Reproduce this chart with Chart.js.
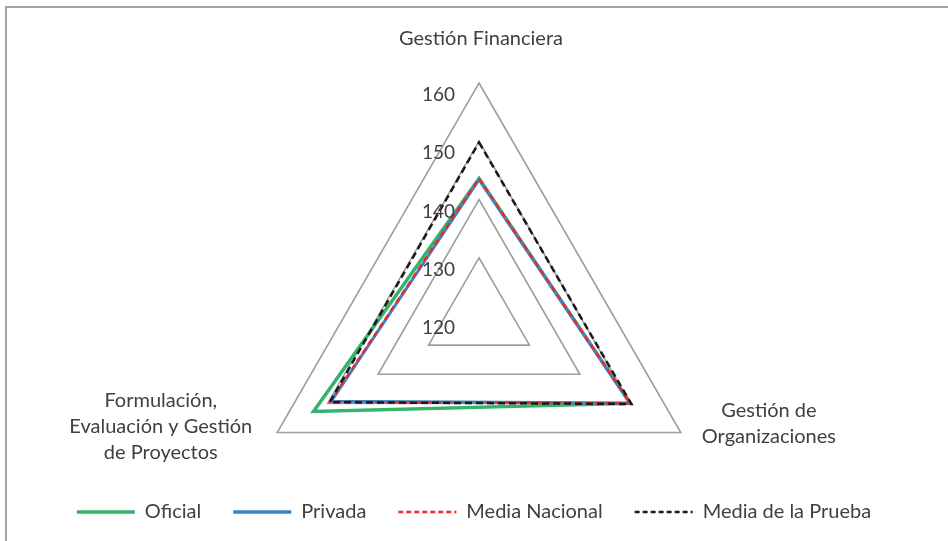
<!DOCTYPE html>
<html>
<head>
<meta charset="utf-8">
<script src="https://cdn.jsdelivr.net/npm/chart.js@4/dist/chart.umd.min.js"></script>
<style>
  html, body { margin: 0; padding: 0; background: #fff; }
  #wrap { position: relative; width: 948px; height: 541px; overflow: hidden; }
  #frame { position: absolute; left: 5px; top: 6px; width: 1000px; height: 600px;
           border-left: 2px solid #a3a3a3; border-top: 2px solid #a3a3a3; pointer-events: none; }
</style>
</head>
<body>
<div id="wrap">
  <canvas id="radar" width="948" height="541"></canvas>
  <div id="frame"></div>
</div>
<script>
// ejes (categorias) del radar
var ejes = ['Gestión Financiera', 'Gestión de Organizaciones', 'Formulación, Evaluación y Gestión de Proyectos'];
var ejesLineas = [
    ['Gestión Financiera'],
    ['Gestión de', 'Organizaciones'],
    ['Formulación,', 'Evaluación y Gestión', 'de Proyectos']
];

// series
var oficial       = [143.6, 150.0, 152.8];
var privada       = [143.4, 149.9, 149.3];
var mediaNacional = [143.6, 150.0, 149.5];
var mediaPrueba   = [149.8, 150.2, 149.6];

// escala
var escalaMin = 120;
var escalaMax = 160;
var escalaPaso = 10;

var fuente = 'Lato, "Liberation Sans", sans-serif';
var colorTexto = '#404040';

// etiquetas de ticks y de ejes dibujadas a mano (posicion tipo Excel)
const textoRadar = {
    id: 'textoRadar',
    afterDraw(chart) {
        const r = chart.scales.r;
        const ctx = chart.ctx;
        ctx.save();
        ctx.fillStyle = colorTexto;

        // ticks
        ctx.font = '19px ' + fuente;
        ctx.textAlign = 'right';
        ctx.textBaseline = 'middle';
        r.ticks.forEach(t => {
            const d = r.getDistanceFromCenterForValue(t.value);
            ctx.fillText(String(t.value), r.xCenter - 24, r.yCenter - d + 12);
        });

        // nombres de los ejes
        ctx.font = '20px ' + fuente;
        ctx.textAlign = 'center';
        const alto = 26;
        ejesLineas.forEach((lineas, i) => {
            const p = r.getPointPosition(i, r.drawingArea);
            let anchoMax = 0;
            lineas.forEach(l => { anchoMax = Math.max(anchoMax, ctx.measureText(l).width); });
            let cx, cy;
            if (i === 0) {
                cx = p.x + 2;
                cy = p.y - 44;
            } else if (p.x > r.xCenter) {
                cx = p.x + 21 + anchoMax / 2;
                cy = p.y - 9;
            } else {
                cx = p.x - 25 - anchoMax / 2;
                cy = p.y - 6;
            }
            const y0 = cy - (lineas.length - 1) * alto / 2;
            lineas.forEach((l, k) => ctx.fillText(l, cx, y0 + k * alto));
        });
        ctx.restore();
    }
};

const config = {
    type: 'radar',
    data: {
        labels: ejes,
        datasets: [
            { label: 'Oficial', data: oficial, borderColor: '#33b36b', backgroundColor: '#33b36b',
              borderWidth: 3.5, fill: false, order: 4 },
            { label: 'Privada', data: privada, borderColor: '#3a86c4', backgroundColor: '#3a86c4',
              borderWidth: 3, fill: false, order: 3 },
            { label: 'Media Nacional', data: mediaNacional, borderColor: '#f0282d', backgroundColor: '#f0282d',
              borderWidth: 2.5, borderDash: [6, 4], fill: false, order: 2 },
            { label: 'Media de la Prueba', data: mediaPrueba, borderColor: '#1a1a1a', backgroundColor: '#1a1a1a',
              borderWidth: 2.5, borderDash: [7, 4], fill: false, order: 1 }
        ]
    },
    options: {
        responsive: false,
        animation: false,
        layout: { padding: { bottom: 9 } },
        elements: {
            point: { radius: 0, hoverRadius: 0 },
            line: { tension: 0 }
        },
        scales: {
            r: {
                min: escalaMin,
                max: escalaMax,
                ticks: { stepSize: escalaPaso, display: false },
                angleLines: { display: false },
                grid: { circular: false, color: '#9e9e9e', lineWidth: 1.6 },
                pointLabels: { display: false },
                afterFit: function (scale) {
                    scale.xCenter = 479;
                    scale.yCenter = 316;
                    scale.drawingArea = 233;
                }
            }
        },
        plugins: {
            tooltip: { enabled: false },
            legend: {
                position: 'bottom',
                labels: {
                    usePointStyle: true,
                    pointStyle: 'line',
                    pointStyleWidth: 58,
                    padding: 32,
                    color: colorTexto,
                    font: { family: fuente, size: 20 },
                    sort: (a, b) => a.datasetIndex - b.datasetIndex,
                    generateLabels: function (chart) {
                        const items = Chart.defaults.plugins.legend.labels.generateLabels(chart);
                        items.forEach(it => {
                            const ds = chart.data.datasets[it.datasetIndex];
                            it.lineDash = ds.borderDash ? [5, 3] : [];
                            it.lineWidth = ds.borderDash ? 2.5 : 3.5;
                        });
                        return items;
                    }
                }
            }
        }
    },
    plugins: [textoRadar]
};

var radar = new Chart(document.getElementById('radar'), config);
</script>
</body>
</html>
